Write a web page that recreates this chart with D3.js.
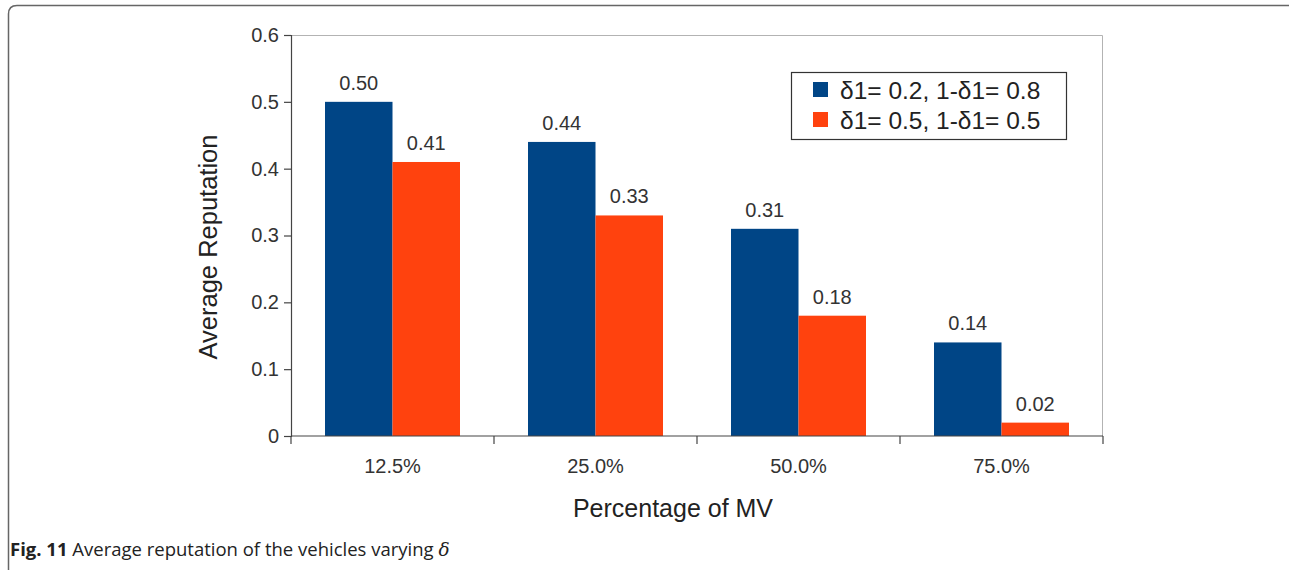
<!DOCTYPE html>
<html>
<head>
<meta charset="utf-8">
<script src="https://cdn.jsdelivr.net/npm/d3@7"></script>
<style>
  html, body { margin: 0; padding: 0; background: #fff; }
  svg { display: block; }
</style>
</head>
<body>
<svg id="chart" width="1289" height="570"></svg>
<script>
// Percentage of malicious vehicles on the x axis
const categories = ["12.5%", "25.0%", "50.0%", "75.0%"];
const seriesNames = ["δ1= 0.2, 1-δ1= 0.8", "δ1= 0.5, 1-δ1= 0.5"];
const seriesA = [0.50, 0.44, 0.31, 0.14];
const seriesB = [0.41, 0.33, 0.18, 0.02];
const yTicks = [0, 0.1, 0.2, 0.3, 0.4, 0.5, 0.6];
const yTickLabels = ["0", "0.1", "0.2", "0.3", "0.4", "0.5", "0.6"];

const colors = ["#004586", "#ff420e"];
const textColor = "#333333";
const font = "'Liberation Sans', Arial, sans-serif";

const svg = d3.select("#chart");

// Figure frame (rounded top-left corner, runs off the right and bottom)
svg.append("path")
  .attr("d", "M8.5,575 L8.5,14 Q8.5,5.5 17,5.5 L1300,5.5")
  .attr("fill", "none")
  .attr("stroke", "#666")
  .attr("stroke-width", 1.5);

const plot = { left: 291, right: 1103, top: 35, bottom: 436 };

const x0 = d3.scaleBand()
  .domain(categories)
  .range([plot.left, plot.right])
  .paddingInner(0.335)
  .paddingOuter(0.1675);
const step = x0.step();

const x1 = d3.scaleBand()
  .domain([0, 1])
  .range([0, x0.bandwidth()]);

const y = d3.scaleLinear()
  .domain([0, 0.6])
  .range([plot.bottom, plot.top]);

// Light plot-area border (top and right)
svg.append("path")
  .attr("d", `M${plot.left},${plot.top + 0.5} H${plot.right - 0.5} V${plot.bottom}`)
  .attr("fill", "none")
  .attr("stroke", "#b3b3b3")
  .attr("stroke-width", 1);

// Bars
const rows = categories.map((c, i) => ({ cat: c, vals: [seriesA[i], seriesB[i]] }));
const groups = svg.append("g").selectAll("g")
  .data(rows)
  .join("g")
  .attr("transform", d => `translate(${x0(d.cat)},0)`);

groups.selectAll("rect")
  .data(d => d.vals.map((v, k) => ({ v, k })))
  .join("rect")
  .attr("x", d => x1(d.k))
  .attr("width", x1.bandwidth())
  .attr("y", d => y(d.v))
  .attr("height", d => y(0) - y(d.v))
  .attr("fill", d => colors[d.k]);

// Value labels above bars
groups.selectAll("text")
  .data(d => d.vals.map((v, k) => ({ v, k })))
  .join("text")
  .attr("x", d => x1(d.k) + x1.bandwidth() / 2)
  .attr("y", d => y(d.v) - 12)
  .attr("text-anchor", "middle")
  .attr("font-family", font)
  .attr("font-size", 20)
  .attr("fill", textColor)
  .text(d => d3.format(".2f")(d.v));

// Y axis
const yAxis = d3.axisLeft(y)
  .tickValues(yTicks)
  .tickFormat((d, i) => yTickLabels[i])
  .tickSize(7)
  .tickPadding(5);
const gy = svg.append("g")
  .attr("transform", `translate(${plot.left},0)`)
  .call(yAxis);
gy.select(".domain").attr("stroke", "#444").attr("stroke-width", 1.2);
gy.selectAll(".tick line").attr("stroke", "#444").attr("stroke-width", 1.2);
gy.selectAll(".tick text")
  .attr("font-family", font)
  .attr("font-size", 20)
  .attr("fill", textColor);

// X axis: ticks between categories, labels centred in each band
const gx = svg.append("g").attr("transform", `translate(0,${plot.bottom})`);
gx.append("line")
  .attr("x1", plot.left).attr("x2", plot.right)
  .attr("stroke", "#444").attr("stroke-width", 1.2);
const boundaries = d3.range(categories.length + 1).map(i => plot.left + i * step);
gx.selectAll("line.tick")
  .data(boundaries)
  .join("line")
  .attr("class", "tick")
  .attr("x1", d => d).attr("x2", d => d)
  .attr("y1", 0).attr("y2", 8)
  .attr("stroke", "#444").attr("stroke-width", 1.2);
gx.selectAll("text")
  .data(categories)
  .join("text")
  .attr("x", d => x0(d) + x0.bandwidth() / 2)
  .attr("y", 37)
  .attr("text-anchor", "middle")
  .attr("font-family", font)
  .attr("font-size", 20)
  .attr("fill", textColor)
  .text(d => d);

// Axis titles
svg.append("text")
  .attr("x", 673)
  .attr("y", 517)
  .attr("text-anchor", "middle")
  .attr("font-family", font)
  .attr("font-size", 25)
  .attr("fill", "#222")
  .text("Percentage of MV");

svg.append("text")
  .attr("transform", `translate(217,247) rotate(-90)`)
  .attr("text-anchor", "middle")
  .attr("font-family", font)
  .attr("font-size", 25.5)
  .attr("fill", "#222")
  .text("Average Reputation");

// Legend
const legend = svg.append("g").attr("transform", "translate(791,72)");
legend.append("rect")
  .attr("x", 0.5).attr("y", 0.5)
  .attr("width", 275).attr("height", 67)
  .attr("fill", "#fff")
  .attr("stroke", "#333")
  .attr("stroke-width", 1.2);
seriesNames.forEach((name, i) => {
  const row = legend.append("g").attr("transform", `translate(0,${10 + i * 30})`);
  row.append("rect")
    .attr("x", 22).attr("y", 0)
    .attr("width", 15).attr("height", 15)
    .attr("fill", colors[i]);
  row.append("text")
    .attr("x", 49).attr("y", 17)
    .attr("font-family", font)
    .attr("font-size", 24.5)
    .attr("fill", "#222")
    .text(name);
});

// Caption
const cap = svg.append("text")
  .attr("x", 10)
  .attr("y", 556)
  .attr("font-family", "'Open Sans', 'Noto Sans', sans-serif")
  .attr("font-size", 18.5)
  .attr("fill", "#222");
cap.append("tspan").attr("font-weight", "bold").text("Fig. 11");
cap.append("tspan").text(" Average reputation of the vehicles varying ");
cap.append("tspan").attr("font-style", "italic").attr("font-family", "'DejaVu Serif', serif").text("δ");
</script>
</body>
</html>
